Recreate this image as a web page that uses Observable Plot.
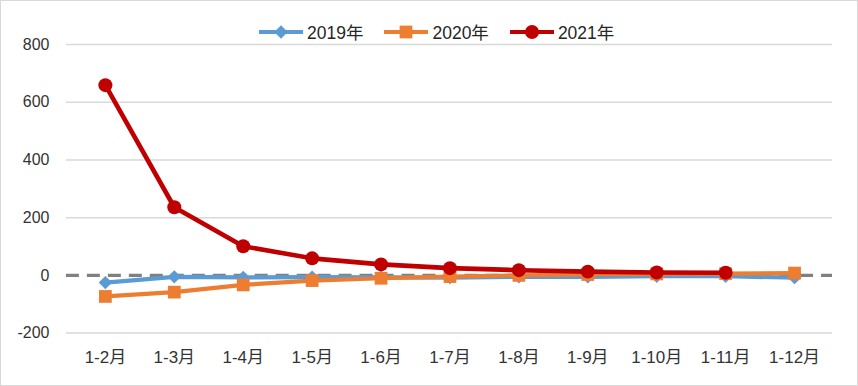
<!DOCTYPE html>
<html>
<head>
<meta charset="utf-8">
<script src="https://cdn.jsdelivr.net/npm/d3@7"></script>
<script src="https://cdn.jsdelivr.net/npm/@observablehq/plot@0.6"></script>
<style>
  html, body { margin: 0; padding: 0; background: #fff; }
  #wrap { position: relative; width: 858px; height: 386px; box-sizing: border-box; border: 1px solid #d9d9d9; overflow: hidden; }
  #chart { position: absolute; left: -1px; top: -1px; }
  #legend { position: absolute; top: 18px; left: 257px; display: flex; gap: 20px;
            font-family: "Liberation Sans", "Noto Sans CJK SC", sans-serif; font-size: 17.5px; color: #262626; }
  .item { display: flex; align-items: center; gap: 3px; }
  .item svg { display: block; }
</style>
</head>
<body>
<div id="wrap">
  <div id="chart"></div>
  <div id="legend"></div>
</div>
<script>
const months = ["1-2月","1-3月","1-4月","1-5月","1-6月","1-7月","1-8月","1-9月","1-10月","1-11月","1-12月"];
const series = ["2019年","2020年","2021年"];
const v2019 = [-25, -5, -7, -6, -7, -8, -5, -5, -3, -3, -8];
const v2020 = [-73, -58, -33, -18, -10, -4, 0, 3, 5, 6, 8];
const v2021 = [659, 236, 101, 59, 38, 25, 18, 13, 10, 9];
const yTicks = [-200, 0, 200, 400, 600, 800];
const gridTicks = [-200, 200, 400, 600, 800];
const colors = ["#5B9BD5", "#ED7D31", "#C00000"];
const symbols = ["diamond2", "square", "circle"];
const radii = [6, 7.2, 7];

const rows = [];
[v2019, v2020, v2021].forEach((vals, si) => {
  vals.forEach((v, i) => rows.push({month: months[i], value: v, series: series[si]}));
});

const font = "'Liberation Sans', 'Noto Sans CJK SC', sans-serif";

const marks = [
  Plot.ruleY(gridTicks, {stroke: "#d9d9d9", strokeWidth: 1.5}),
  Plot.ruleY([0], {stroke: "#808080", strokeWidth: 3.5, strokeDasharray: "13,8"}),
  Plot.axisY({ticks: yTicks, tickSize: 0, tickPadding: 17, fontSize: 16, tickFormat: d => d, label: null}),
  Plot.axisX({tickSize: 0, tickPadding: 18, fontSize: 17, label: null})
];
series.forEach((s, si) => {
  const d = rows.filter(r => r.series === s);
  marks.push(Plot.line(d, {x: "month", y: "value", stroke: colors[si], strokeWidth: si === 2 ? 4.6 : 4.2, curve: "linear"}));
  marks.push(Plot.dot(d, {x: "month", y: "value", fill: colors[si], stroke: "none", symbol: symbols[si], r: radii[si]}));
});

const chart = Plot.plot({
  width: 858,
  height: 386,
  marginTop: 44,
  marginBottom: 53,
  marginLeft: 66,
  marginRight: 25,
  style: {fontFamily: font, color: "#333333", background: "transparent", overflow: "visible"},
  x: {type: "point", domain: months, padding: 0.5},
  y: {domain: [-200, 800]},
  marks
});
document.getElementById("chart").appendChild(chart);

// legend
const legend = document.getElementById("legend");
series.forEach((s, si) => {
  const item = document.createElement("div");
  item.className = "item";
  const sv = d3.create("svg").attr("width", 46).attr("height", 18);
  sv.append("line").attr("x1", 1).attr("x2", 45).attr("y1", 9).attr("y2", 9)
    .attr("stroke", colors[si]).attr("stroke-width", 4.2);
  const sym = {diamond2: d3.symbolDiamond2, square: d3.symbolSquare, circle: d3.symbolCircle}[symbols[si]];
  sv.append("path").attr("transform", "translate(23,9)")
    .attr("d", d3.symbol(sym, Math.PI * radii[si] * radii[si])())
    .attr("fill", colors[si]);
  item.appendChild(sv.node());
  const t = document.createElement("span");
  t.textContent = s;
  item.appendChild(t);
  legend.appendChild(item);
});
</script>
</body>
</html>
